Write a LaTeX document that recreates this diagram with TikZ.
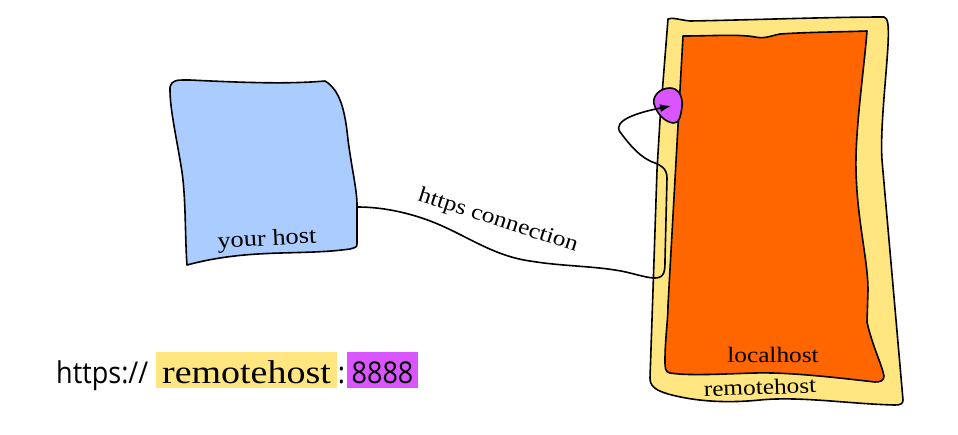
\documentclass[tikz,border=0pt]{standalone}
\usepackage{fontspec}
\usetikzlibrary{arrows.meta}
\newfontfamily\labfont[FakeStretch=1.15]{Liberation Serif}
\newfontfamily\urlfont[FakeStretch=0.9]{Open Sans}
\definecolor{hostblue}{HTML}{AACCFF}
\definecolor{remyellow}{HTML}{FFE680}
\definecolor{locorange}{HTML}{FF6600}
\definecolor{portmag}{HTML}{D955FF}
\tikzset{
  sketch/.style={draw=black, line width=1.6pt, line join=round},
  lab/.style={font=\labfont\fontsize{22}{26}\selectfont, inner sep=0pt},
  urltext/.style={font=\urlfont\fontsize{30}{34}\selectfont, inner sep=0pt},
  conn/.style={draw=black, line width=1.6pt, -{Latex[length=11pt,width=8pt]}},
}
\begin{document}
\begin{tikzpicture}[x=1pt,y=-1pt]
\useasboundingbox (0,0) rectangle (958,434);
% your host
\path[sketch, fill=hostblue] (172,83) .. controls (176,80) .. (190,80)
  .. controls (250,83) and (290,84) .. (325,81)
  .. controls (340,90) and (345,110) .. (348,140)
  .. controls (352,170) and (357,190) .. (357,205)
  -- (357,243) .. controls (357,247) .. (350,249)
  .. controls (300,256) and (250,248) .. (187,265)
  .. controls (185,240) and (186,200) .. (182,172)
  .. controls (177,140) and (170,110) .. (170,90)
  .. controls (170,86) .. (172,83) -- cycle;
\coordinate (yhport) at (358,207);
% remotehost
\path[sketch, fill=remyellow] (668,19) .. controls (672,17) and (680,20) .. (690,21)
  .. controls (750,20) and (830,17) .. (884,17)
  .. controls (888,18) and (889,25) .. (888,45)
  .. controls (886,80) and (880,130) .. (882,160)
  -- (903,400) .. controls (903,404) and (900,405) .. (895,405)
  .. controls (850,404) and (800,396) .. (760,400)
  .. controls (720,404) and (690,400) .. (668,394)
  .. controls (655,390) and (650,386) .. (650,378)
  -- (653,290) -- (657,170) -- (660,120) -- cycle;
% localhost
\path[sketch, fill=locorange] (683,36) .. controls (710,36) and (740,34) .. (755,37)
  .. controls (765,39) and (770,36) .. (780,34)
  .. controls (810,32) and (840,32) .. (867,31)
  .. controls (864,70) and (855,130) .. (856,170)
  .. controls (857,220) and (868,260) .. (868,290)
  -- (867,322) .. controls (872,345) and (882,365) .. (884,376)
  .. controls (884,381) and (880,382) .. (875,382)
  .. controls (840,378) and (790,372) .. (755,373)
  .. controls (720,374) and (690,376) .. (670,373)
  .. controls (665,372) and (665,368) .. (665,360)
  .. controls (665,340) and (668,320) .. (668,305) -- cycle;
% port
\path[sketch, fill=portmag] (670,88) .. controls (678,88) and (683,96) .. (682,106)
  .. controls (681,116) and (679,124) .. (673,123)
  .. controls (665,122) and (657,114) .. (654,104)
  .. controls (652,96) and (660,88) .. (670,88) -- cycle;
\coordinate (port) at (671,106);
% connection
\draw[conn] (yhport) .. controls (385,207) and (415,214) .. (440,225)
  .. controls (470,238) and (495,256) .. (530,261)
  .. controls (560,266) and (590,266) .. (615,270)
  .. controls (630,272) and (645,278) .. (655,278)
  .. controls (665,278) and (665,270) .. (665,260)
  -- (667,178) .. controls (667,168) and (660,165) .. (655,163)
  .. controls (640,158) and (630,145) .. (620,132)
  .. controls (612,120) and (640,112) .. (port);
% labels
\node[lab, font=\labfont\fontsize{23}{27}\selectfont, rotate=3] (yhlab) at (267,240) {your host};
\node[lab, rotate=-18] (connlab) at (498,221) {https connection};
\node[lab] (loclab) at (773,355) {localhost};
\node[lab, rotate=2] (remlab) at (760,387) {remotehost};
% url
\node[urltext, anchor=base west] (proto) at (56,383) {https://};
\node[font=\labfont\fontsize{33}{37}\selectfont, fill=remyellow, inner sep=0pt,
  minimum width=181pt, text height=31pt, text depth=5pt, anchor=base] (urlhost) at (246.5,383) {remotehost};
\node[urltext, anchor=base] (colon) at (341.5,383) {:};
\node[urltext, fill=portmag, inner sep=0pt, minimum width=71pt,
  text height=31pt, text depth=5pt, anchor=base] (urlport) at (382.5,383) {8888};
\end{tikzpicture}
\end{document}
